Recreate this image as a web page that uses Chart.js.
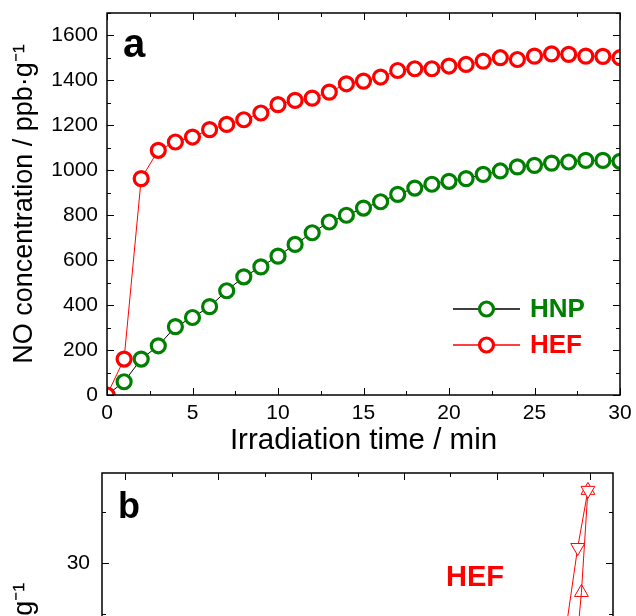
<!DOCTYPE html>
<html>
<head>
<meta charset="utf-8">
<script src="https://cdn.jsdelivr.net/npm/chart.js@4.4.0/dist/chart.umd.min.js"></script>
<style>
  html, body { margin: 0; padding: 0; background: #fff; overflow: hidden; width: 636px; height: 616px; }
  #chartA { position: absolute; left: 0; top: 0; }
  #chartB { position: absolute; left: 0; top: 460px; }
</style>
</head>
<body>
<canvas id="chartA" width="636" height="462"></canvas>
<canvas id="chartB" width="636" height="620"></canvas>
<script>
// panel a: NO produced vs irradiation time
var times = [0, 1, 2, 3, 4, 5, 6, 7, 8, 9, 10, 11, 12, 13, 14, 15, 16, 17, 18, 19, 20, 21, 22, 23, 24, 25, 26, 27, 28, 29, 30];
var hnpNO = [0, 59, 160, 219, 304, 345, 393, 464, 526, 570, 618, 670, 722, 770, 800, 832, 860, 893, 921, 938, 951, 963, 982, 997, 1015, 1022, 1032, 1037, 1044, 1044, 1040];
var hefNO = [0, 160, 963, 1089, 1126, 1148, 1181, 1204, 1225, 1255, 1292, 1311, 1321, 1348, 1385, 1397, 1415, 1444, 1452, 1452, 1464, 1471, 1486, 1501, 1493, 1508, 1518, 1516, 1508, 1507, 1501];

// panel b (only its top part is in view)
var bDownX = [4.72, 4.87, 4.98];
var bDownY = [22, 31.5, 37.1];
var bUpX = [4.85, 4.91, 4.98];
var bUpY = [21, 27.1, 37.1];

var FONT = '"Liberation Sans", Arial, sans-serif';
var GREEN = '#008000';
var RED = '#ff0000';

function pts(xs, ys) {
  return xs.map(function (x, i) { return { x: x, y: ys[i] }; });
}

function plain(v) { return String(v); }

// keep the plot box exactly where layout puts it
function noEdgePad(s) {
  s.paddingTop = 0; s.paddingBottom = 0; s.paddingLeft = 0; s.paddingRight = 0;
}

// box around the plot with inward major/minor ticks on all four sides
var frameTicks = {
  id: 'frameTicks',
  afterDatasetsDraw: function (chart, args, o) {
    var ctx = chart.ctx, a = chart.chartArea, x = chart.scales.x, y = chart.scales.y;
    ctx.save();
    ctx.strokeStyle = '#000';
    ctx.lineWidth = 1;
    var v, p, len;
    for (v = Math.ceil(x.min / o.xMinor) * o.xMinor; v <= x.max + 1e-9; v += o.xMinor) {
      p = Math.round(x.getPixelForValue(v)) + 0.5;
      len = Math.abs(v / o.xMajor - Math.round(v / o.xMajor)) < 1e-6 ? 7 : 4;
      ctx.beginPath();
      ctx.moveTo(p, a.bottom); ctx.lineTo(p, a.bottom - len);
      ctx.moveTo(p, a.top); ctx.lineTo(p, a.top + len);
      ctx.stroke();
    }
    for (v = Math.ceil(y.min / o.yMinor) * o.yMinor; v <= y.max + 1e-9; v += o.yMinor) {
      p = Math.round(y.getPixelForValue(v)) + 0.5;
      len = Math.abs(v / o.yMajor - Math.round(v / o.yMajor)) < 1e-6 ? 7 : 4;
      ctx.beginPath();
      ctx.moveTo(a.left, p); ctx.lineTo(a.left + len, p);
      ctx.moveTo(a.right, p); ctx.lineTo(a.right - len, p);
      ctx.stroke();
    }
    ctx.lineWidth = 1.5;
    ctx.strokeRect(a.left, a.top, a.right - a.left, a.bottom - a.top);
    ctx.restore();
  }
};

// panel letter, in-plot legend and labels
var panelDecor = {
  id: 'panelDecor',
  afterDraw: function (chart, args, o) {
    var ctx = chart.ctx, a = chart.chartArea;
    ctx.save();
    ctx.fillStyle = '#000';
    ctx.textAlign = 'left';
    ctx.textBaseline = 'alphabetic';
    ctx.font = 'bold ' + o.letterSize + 'px ' + FONT;
    ctx.fillText(o.letter, a.left + o.letterX, a.top + o.letterY);

    (o.legend || []).forEach(function (it) {
      var yy = a.top + it.y;
      ctx.strokeStyle = it.line;
      ctx.lineWidth = 1.5;
      ctx.beginPath();
      ctx.moveTo(a.left + it.x0, yy); ctx.lineTo(a.left + it.x1, yy);
      ctx.stroke();
      ctx.beginPath();
      ctx.arc(a.left + (it.x0 + it.x1) / 2, yy, 7, 0, Math.PI * 2);
      ctx.fillStyle = '#fff';
      ctx.fill();
      ctx.lineWidth = 3.2;
      ctx.strokeStyle = it.color;
      ctx.stroke();
      ctx.fillStyle = it.color;
      ctx.font = 'bold 26px ' + FONT;
      ctx.textBaseline = 'middle';
      ctx.fillText(it.label, a.left + it.x1 + 10, yy + 1);
    });

    (o.texts || []).forEach(function (t) {
      ctx.fillStyle = t.color;
      ctx.font = 'bold ' + t.size + 'px ' + FONT;
      ctx.textAlign = 'center';
      ctx.textBaseline = 'middle';
      ctx.fillText(t.text, a.left + t.x, a.top + t.y);
    });
    ctx.restore();
  }
};

function yTitle() {
  return { display: true, text: 'NO concentration / ppb\u00b7g\u207b\u00b9', color: '#000', font: { family: FONT, size: 27 }, padding: { top: 8, bottom: 0 } };
}

new Chart(document.getElementById('chartA'), {
  type: 'line',
  data: {
    datasets: [{
      label: 'HEF',
      data: pts(times, hefNO),
      borderColor: RED,
      borderWidth: 1,
      pointRadius: 7,
      pointBorderWidth: 3.2,
      pointBorderColor: RED,
      pointBackgroundColor: '#fff',
      clip: 0
    }, {
      label: 'HNP',
      data: pts(times, hnpNO),
      borderColor: '#000',
      borderWidth: 1,
      pointRadius: 7,
      pointBorderWidth: 3.2,
      pointBorderColor: GREEN,
      pointBackgroundColor: '#fff',
      clip: 0
    }]
  },
  options: {
    responsive: false,
    animation: false,
    devicePixelRatio: 1,
    layout: { padding: { top: 13, right: 16, left: 0, bottom: 0 } },
    plugins: {
      legend: { display: false },
      tooltip: { enabled: false },
      frameTicks: { xMinor: 2.5, xMajor: 5, yMinor: 100, yMajor: 200 },
      panelDecor: {
        letter: 'a', letterSize: 40, letterX: 16, letterY: 44,
        legend: [
          { label: 'HNP', color: GREEN, line: '#000', x0: 346, x1: 413, y: 296 },
          { label: 'HEF', color: RED, line: RED, x0: 346, x1: 413, y: 332 }
        ]
      }
    },
    scales: {
      x: {
        type: 'linear', min: 0, max: 30,
        grid: { display: false, drawTicks: false },
        border: { display: false },
        ticks: { stepSize: 5, includeBounds: false, maxRotation: 0, color: '#000', padding: 6, font: { family: FONT, size: 21 }, callback: plain },
        title: { display: true, text: 'Irradiation time / min', color: '#000', font: { family: FONT, size: 29.5 }, padding: { top: 0, bottom: 3 } },
        afterFit: function (s) { s.height = 67; noEdgePad(s); }
      },
      y: {
        type: 'linear', min: 0, max: 1700,
        grid: { display: false, drawTicks: false },
        border: { display: false },
        ticks: { stepSize: 200, includeBounds: false, color: '#000', padding: 9, font: { family: FONT, size: 21 }, callback: plain },
        title: yTitle(),
        afterFit: function (s) { s.width = 107; noEdgePad(s); }
      }
    }
  },
  plugins: [frameTicks, panelDecor]
});

new Chart(document.getElementById('chartB'), {
  type: 'line',
  data: {
    datasets: [{
      label: 'HEF down',
      data: pts(bDownX, bDownY),
      borderColor: RED,
      borderWidth: 1,
      pointStyle: 'triangle',
      pointRotation: 180,
      pointRadius: 8,
      pointBorderWidth: 1,
      pointBorderColor: RED,
      pointBackgroundColor: '#fff',
      clip: 0
    }, {
      label: 'HEF up',
      data: pts(bUpX, bUpY),
      borderColor: RED,
      borderWidth: 1,
      pointStyle: 'triangle',
      pointRadius: 8,
      pointBorderWidth: 1,
      pointBorderColor: RED,
      pointBackgroundColor: 'rgba(255,255,255,0)',
      clip: 0
    }]
  },
  options: {
    responsive: false,
    animation: false,
    devicePixelRatio: 1,
    layout: { padding: { top: 13, right: 23, left: 0, bottom: 0 } },
    plugins: {
      legend: { display: false },
      tooltip: { enabled: false },
      frameTicks: { xMinor: 0.5, xMajor: 1, yMinor: 5, yMajor: 10 },
      panelDecor: {
        letter: 'b', letterSize: 36, letterX: 16, letterY: 45,
        texts: [{ text: 'HEF', color: RED, size: 29, x: 373, y: 105 }]
      }
    },
    scales: {
      x: {
        type: 'linear', min: -0.25, max: 5.25,
        grid: { display: false, drawTicks: false },
        border: { display: false },
        ticks: { stepSize: 1, includeBounds: false, maxRotation: 0, color: '#000', padding: 6, font: { family: FONT, size: 21 }, callback: plain },
        afterFit: function (s) { s.height = 68; noEdgePad(s); }
      },
      y: {
        type: 'linear', min: -14, max: 38.8,
        grid: { display: false, drawTicks: false },
        border: { display: false },
        ticks: { stepSize: 10, includeBounds: false, color: '#000', padding: 12, font: { family: FONT, size: 21 }, callback: plain },
        title: yTitle(),
        afterFit: function (s) { s.width = 102; noEdgePad(s); }
      }
    }
  },
  plugins: [frameTicks, panelDecor]
});
</script>
</body>
</html>
